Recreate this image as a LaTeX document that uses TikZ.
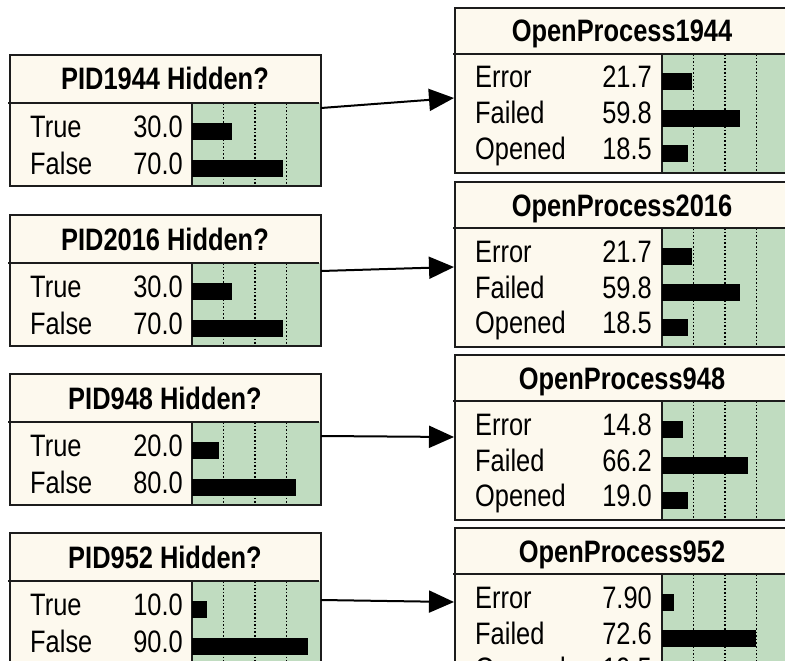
\documentclass[tikz,border=0pt]{standalone}
\usepackage{fontspec}
\setmainfont{Liberation Sans}[FakeStretch=0.82]
\usetikzlibrary{arrows.meta}

\definecolor{cream}{RGB}{253,249,238}
\definecolor{meadow}{RGB}{192,220,192}
\definecolor{edge}{RGB}{28,28,28}

\tikzset{
  frame/.style={fill=cream, draw=none, inner sep=0pt, outer sep=0pt, anchor=north west},
  rule/.style={draw=edge, line width=2pt},
  gridline/.style={draw=black, line width=1.4pt, dash pattern=on 1.6pt off 2pt},
  title/.style={font=\bfseries\fontsize{31}{36}\selectfont, anchor=base, inner sep=0pt},
  state/.style={font=\fontsize{31}{36}\selectfont, anchor=base west, inner sep=0pt},
  value/.style={font=\fontsize{31}{36}\selectfont, anchor=base east, inner sep=0pt},
  link/.style={draw=black, line width=2pt, -{Triangle[length=25pt,width=22pt]}},
}

% one state row: label, probability and its bar
% #1 node prefix, #2 baseline, #3 label, #4 value, #5 meter left edge, #6 value right edge
\newcommand\belief[6]{%
  \node[state] (#1-l) at (20,#2) {#3};
  \node[value] (#1-v) at (#6,#2) {#4};
  \fill[black] (#5,#2-14.5) rectangle ({#5+1.27*#4+2},#2+2.5);
}

% two-state hidden node: name, x, y, title, True, False
\newcommand\hiddennode[6]{%
  \begin{scope}[shift={(#2,#3)}]
    \node[frame, minimum width=311pt, minimum height=131pt] (#1) at (0,0) {};
    \fill[meadow] (182,48) rectangle (311,131);
    \foreach \gx in {213.5,245,276.5} \draw[gridline] (\gx,48) -- (\gx,131);
    \draw[rule] (182,48) -- (182,131);
    \draw[rule] (-2,48) -- (309,48);
    \node[title] (#1-t) at (155,35) {#4};
    \belief{#1-a}{82}{True}{#5}{182}{173}
    \belief{#1-b}{119}{False}{#6}{182}{173}
    \draw[rule] (#1.north west) rectangle (#1.south east);
  \end{scope}}

% three-state process node: name, x, y, title, Error, Failed, Opened
\newcommand\processnode[7]{%
  \begin{scope}[shift={(#2,#3)}]
    \node[frame, minimum width=335pt, minimum height=165pt] (#1) at (0,0) {};
    \fill[meadow] (207,46) rectangle (335,165);
    \foreach \gx in {238.5,270,301.5} \draw[gridline] (\gx,46) -- (\gx,165);
    \draw[rule] (207,46) -- (207,165);
    \draw[rule] (-2,46) -- (333,46);
    \node[title] (#1-t) at (167,34) {#4};
    \belief{#1-e}{80}{Error}{#5}{207}{197}
    \belief{#1-f}{116}{Failed}{#6}{207}{197}
    \belief{#1-o}{151}{Opened}{#7}{207}{197}
    \draw[rule] (#1.north west) rectangle (#1.south east);
  \end{scope}}

\begin{document}
\begin{tikzpicture}[x=1pt, y=-1pt]
  \useasboundingbox (0,0) rectangle (785,661);
  \clip (0,0) rectangle (785,661);
  \fill[white] (0,0) rectangle (785,661);

  \hiddennode{p1}{10}{55}{PID1944 Hidden?}{30.0}{70.0}
  \hiddennode{p2}{10}{215}{PID2016 Hidden?}{30.0}{70.0}
  \hiddennode{p3}{10}{374}{PID948 Hidden?}{20.0}{80.0}
  \hiddennode{p4}{10}{533}{PID952 Hidden?}{10.0}{90.0}

  \processnode{q1}{455}{8}{OpenProcess1944}{21.7}{59.8}{18.5}
  \processnode{q2}{455}{182}{OpenProcess2016}{21.7}{59.8}{18.5}
  \processnode{q3}{455}{355}{OpenProcess948}{14.8}{66.2}{19.0}
  \processnode{q4}{455}{528}{OpenProcess952}{7.90}{72.6}{19.5}

  \draw[link] ([yshift=-53pt]p1.north east) -- ([xshift=-1pt,yshift=-90pt]q1.north west);
  \draw[link] ([yshift=-56pt]p2.north east) -- ([xshift=-1pt,yshift=-85pt]q2.north west);
  \draw[link] ([yshift=-62pt]p3.north east) -- ([xshift=-1pt,yshift=-82pt]q3.north west);
  \draw[link] ([yshift=-67pt]p4.north east) -- ([xshift=-1pt,yshift=-74pt]q4.north west);
\end{tikzpicture}
\end{document}
